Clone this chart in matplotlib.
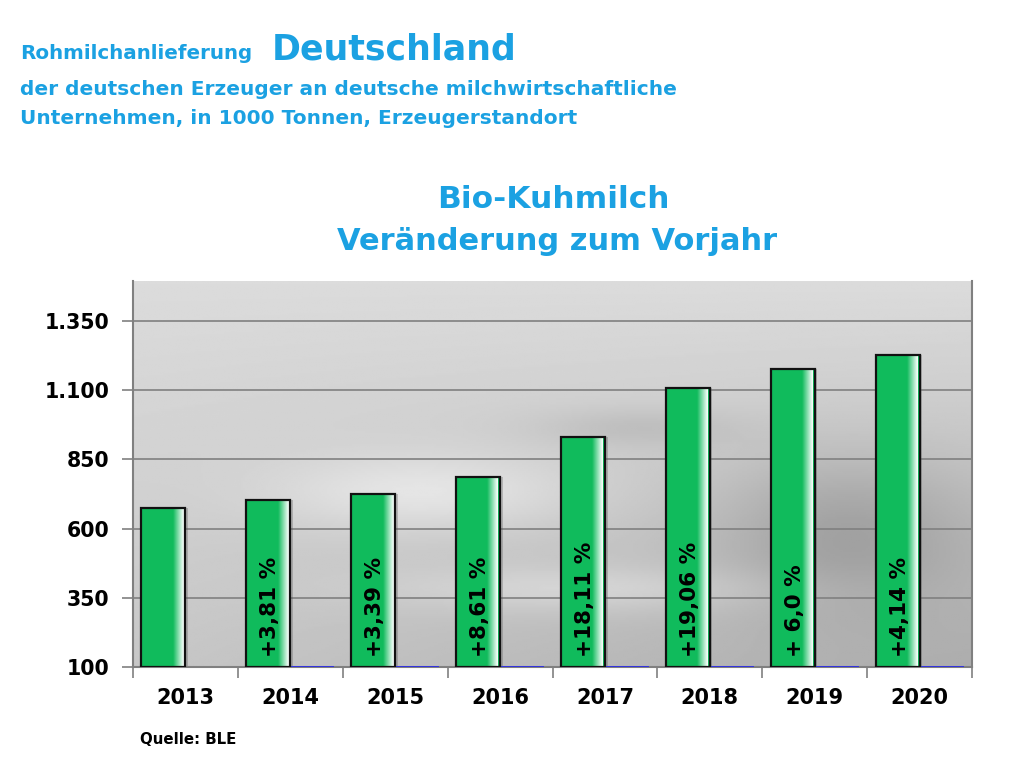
import numpy as np
import matplotlib
matplotlib.use("Agg")
import matplotlib.pyplot as plt
from matplotlib.colors import LinearSegmentedColormap

years = ["2013", "2014", "2015", "2016", "2017", "2018", "2019", "2020"]
values = [676, 702, 726, 788, 931, 1110, 1176, 1228]
changes = ["", "+3,81 %", "+3,39 %", "+8,61 %", "+18,11 %", "+19,06 %", "+ 6,0 %", "+4,14 %"]
second_series = [None, 0, 0, 0, 0, 0, 0, 0]
yticks = [100, 350, 600, 850, 1100, 1350]
ytick_labels = ["100", "350", "600", "850", "1.100", "1.350"]

BLUE = "#1ba1e2"
GREEN = "#10bb5c"
FONT = "DejaVu Sans"

fig = plt.figure(figsize=(10.24, 7.75), dpi=100)
fig.patch.set_facecolor("white")

# header
fig.text(20/1024, 1-59/775, "Rohmilchanlieferung", color=BLUE, fontsize=14.3, fontweight="bold", family=FONT, va="baseline")
fig.text(272/1024, 1-59/775, "Deutschland", color=BLUE, fontsize=25, fontweight="bold", family=FONT, va="baseline")
fig.text(20/1024, 1-95/775, "der deutschen Erzeuger an deutsche milchwirtschaftliche", color=BLUE, fontsize=14.5, fontweight="bold", family=FONT, va="baseline")
fig.text(20/1024, 1-124/775, "Unternehmen, in 1000 Tonnen, Erzeugerstandort", color=BLUE, fontsize=14.5, fontweight="bold", family=FONT, va="baseline")

fig.text(553/1024, 1-200/775, "Bio-Kuhmilch", color=BLUE, fontsize=22.5, fontweight="bold", family=FONT, ha="center", va="center")
fig.text(557/1024, 1-242/775, "Veränderung zum Vorjahr", color=BLUE, fontsize=22, fontweight="bold", family=FONT, ha="center", va="center")

fig.text(140/1024, 1-739/775, "Quelle: BLE", color="black", fontsize=10.8, fontweight="bold", family=FONT, va="center")

ax = fig.add_axes([133/1024, 1-667/775, (972-133)/1024, (667-281)/775])
ymin, ymax = 100, 1495
n = len(years)

# background (photo-like grey)
H, W = 200, 400
yy, xx = np.mgrid[0:1:H*1j, 0:1:W*1j]
bg = 0.78 + 0.08*yy - 0.10*(1-yy)*xx
bg += 0.10*np.exp(-(((xx-0.35)/0.18)**2 + ((yy-0.45)/0.10)**2))
bg += 0.08*np.exp(-(((xx-0.55)/0.25)**2 + ((yy-0.20)/0.06)**2))
bg -= 0.12*np.exp(-(((xx-0.85)/0.15)**2 + ((yy-0.35)/0.20)**2))
bg -= 0.06*np.exp(-(((xx-0.60)/0.12)**2 + ((yy-0.62)/0.05)**2))
bg = np.clip(bg, 0, 1)
ax.imshow(bg, cmap="gray", vmin=0, vmax=1, extent=[0, 1, 0, 1], transform=ax.transAxes,
          aspect="auto", zorder=0, origin="lower")

for t in yticks:
    ax.axhline(t, color="#808080", lw=1.2, zorder=1)

x = np.arange(n)
w = 0.42
gx = x + 0.29
fade = LinearSegmentedColormap.from_list("fade", [GREEN, "white"])
for xi, v in zip(gx, values):
    ax.bar(xi + 0.025, v - ymin, width=w, bottom=ymin, color="#555555", alpha=0.3, zorder=2, lw=0)
    ax.bar(xi, v - ymin, width=w, bottom=ymin, color=GREEN, zorder=3, lw=0)
    grad = np.linspace(0, 1, 50)[None, :]
    ax.imshow(grad, cmap=fade, extent=[xi + w/2 - 0.12, xi + w/2 - 0.02, ymin, v],
              aspect="auto", zorder=3.5, interpolation="bilinear")
    ax.bar(xi, v - ymin, width=w, bottom=ymin, fill=False, edgecolor="#111111", lw=1.6, zorder=4)

for xi, s in zip(x + 0.71, second_series):
    if s is not None:
        ax.bar(xi, 4, width=w, bottom=ymin + s, color="#3333dd", zorder=3, lw=0)

for xi, lab in zip(gx, changes):
    if lab:
        ax.text(xi + 0.02, 135, lab, rotation=90, ha="center", va="bottom",
                fontsize=15.5, fontweight="bold", family=FONT, color="black", zorder=5)

ax.set_xlim(0, n)
ax.set_ylim(ymin, ymax)
ax.set_yticks(yticks)
ax.set_yticklabels(ytick_labels, fontsize=14.8, fontweight="bold", family=FONT)
ax.set_xticks(np.arange(n + 1))
ax.set_xticklabels([])
ax.set_xticks(x + 0.5, minor=True)
ax.set_xticklabels(years, minor=True, fontsize=15, fontweight="bold", family=FONT)
ax.tick_params(axis="x", which="major", length=8, color="#808080", width=1.2)
ax.tick_params(axis="x", which="minor", length=0, pad=15)
ax.tick_params(axis="y", length=8, color="#808080", width=1.2, pad=9)
for sp in ax.spines.values():
    sp.set_color("#808080")
    sp.set_linewidth(1.5)
ax.spines["top"].set_visible(False)

fig.savefig("out.png", dpi=100)
